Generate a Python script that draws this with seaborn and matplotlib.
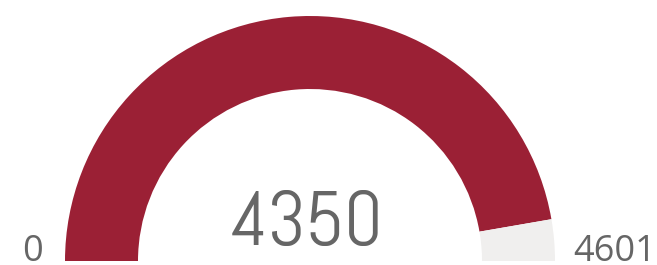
import matplotlib
matplotlib.use("Agg")
import matplotlib.pyplot as plt
import seaborn as sns

# Data
value = 4350
max_value = 4601
min_label = "0"
max_label = "4601"
segment_labels = ["value", "remaining", "hidden"]
segment_values = [value, max_value - value, max_value]
segment_colors = ["#9b2035", "#f0efee", "none"]

sns.set_theme(style="white")
plt.rcParams["font.family"] = ["Open Sans", "DejaVu Sans"]

W, H = 657, 265
fig = plt.figure(figsize=(W / 100, H / 100), dpi=100)
ax = fig.add_axes([0, 0, 1, 1])

R = 245.0
cx, cy = 310.0, 261.0  # pixel centre (from top-left)
ring = (245.0 - 172.0) / R

ax.pie(segment_values, colors=segment_colors, startangle=180, counterclock=False,
       radius=1.0, wedgeprops=dict(width=ring, linewidth=0, antialiased=True))
ax.set_xlim(-cx / R, (W - cx) / R)
ax.set_ylim(-(H - cy) / R, cy / R)
ax.set_aspect("equal")
ax.axis("off")

grey = "#666666"
fig.text(307 / W, 1 - 245 / H, str(value), ha="center", va="baseline",
         fontsize=55, color=grey, family=["Abel", "DejaVu Sans"])
fig.text(22 / W, 1 - 261 / H, min_label, ha="left", va="baseline",
         fontsize=26, color=grey, family=["Open Sans", "DejaVu Sans"])
fig.text(656 / W, 1 - 261 / H, max_label, ha="right", va="baseline",
         fontsize=26, color=grey, family=["Open Sans", "DejaVu Sans"])

fig.savefig("out.png", dpi=100, facecolor="white")
